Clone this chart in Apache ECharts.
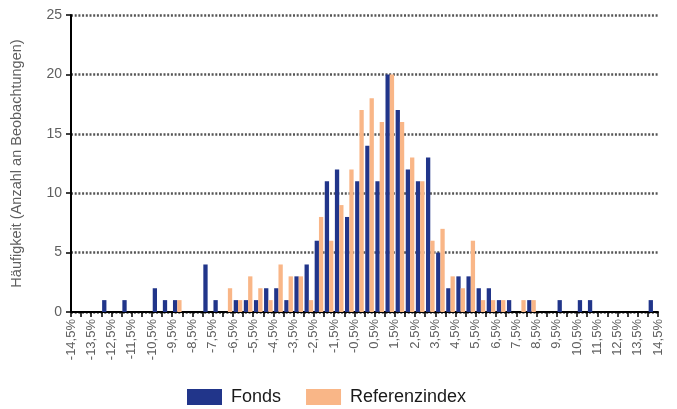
<!DOCTYPE html>
<html>
<head>
<meta charset="utf-8">
<script src="https://cdn.jsdelivr.net/npm/echarts@6/dist/echarts.min.js"></script>
<style>
  html, body { margin: 0; padding: 0; background: #fff; }
  #chart { width: 677px; height: 409px; }
</style>
</head>
<body>
<div id="chart"></div>
<script>
// Klassenmitten (Renditeintervalle à 0,5 %)
const binCenters = [
  -14.25, -13.75, -13.25, -12.75, -12.25, -11.75, -11.25, -10.75, -10.25, -9.75,
  -9.25, -8.75, -8.25, -7.75, -7.25, -6.75, -6.25, -5.75, -5.25, -4.75,
  -4.25, -3.75, -3.25, -2.75, -2.25, -1.75, -1.25, -0.75, -0.25, 0.25,
  0.75, 1.25, 1.75, 2.25, 2.75, 3.25, 3.75, 4.25, 4.75, 5.25,
  5.75, 6.25, 6.75, 7.25, 7.75, 8.25, 8.75, 9.25, 9.75, 10.25,
  10.75, 11.25, 11.75, 12.25, 12.75, 13.25, 13.75, 14.25
]
const fonds = [
  0, 0, 0, 1, 0, 1, 0, 0, 2, 1,
  1, 0, 0, 4, 1, 0, 1, 1, 1, 2,
  2, 1, 3, 4, 6, 11, 12, 8, 11, 14,
  11, 20, 17, 12, 11, 13, 5, 2, 3, 3,
  2, 2, 1, 1, 0, 1, 0, 0, 1, 0,
  1, 1, 0, 0, 0, 0, 0, 1
]
const referenz = [
  0, 0, 0, 0, 0, 0, 0, 0, 0, 0,
  1, 0, 0, 0, 0, 2, 1, 3, 2, 1,
  4, 3, 3, 1, 8, 6, 9, 12, 17, 18,
  16, 20, 16, 13, 11, 6, 7, 3, 2, 6,
  1, 1, 1, 0, 1, 1, 0, 0, 0, 0,
  0, 0, 0, 0, 0, 0, 0, 0
]
const xLabels = [
  '-14,5%', '-13,5%', '-12,5%', '-11,5%', '-10,5%', '-9,5%', '-8,5%', '-7,5%', '-6,5%', '-5,5%',
  '-4,5%', '-3,5%', '-2,5%', '-1,5%', '-0,5%', '0,5%', '1,5%', '2,5%', '3,5%', '4,5%',
  '5,5%', '6,5%', '7,5%', '8,5%', '9,5%', '10,5%', '11,5%', '12,5%', '13,5%', '14,5%'
]

const myChart = echarts.init(document.getElementById('chart'))
myChart.setOption({
  animation: false,
  grid: {
    left: 71,
    right: 19,
    top: 15,
    bottom: 97
  },
  legend: {
    left: 187,
    top: 388,
    padding: 0,
    icon: 'rect',
    itemWidth: 35,
    itemHeight: 16,
    itemGap: 25,
    textStyle: {
      fontFamily: 'Liberation Sans',
      fontSize: 18,
      color: '#1a1a1a',
      padding: [0, 0, 0, 4]
    },
    data: ['Fonds', 'Referenzindex']
  },
  xAxis: {
    type: 'value',
    min: -14.5,
    max: 14.5,
    interval: 0.5,
    axisLine: {
      onZero: false,
      lineStyle: { color: '#000', width: 2 }
    },
    axisTick: {
      show: true,
      length: 5,
      lineStyle: { color: '#000', width: 1.5 }
    },
    splitLine: { show: false },
    axisLabel: {
      rotate: 90,
      margin: 7,
      fontFamily: 'Liberation Sans',
      fontSize: 13,
      color: '#5f5f5f',
      showMinLabel: true,
      showMaxLabel: true,
      formatter: function (v) {
        const k = (v + 14.5)
        if (Math.abs(k - Math.round(k)) > 1e-6) return ''
        return xLabels[Math.round(k)] || ''
      }
    }
  },
  yAxis: {
    type: 'value',
    min: 0,
    max: 25,
    interval: 5,
    name: 'Häufigkeit (Anzahl an Beobachtungen)',
    nameLocation: 'middle',
    nameGap: 47,
    nameTextStyle: {
      fontFamily: 'Liberation Sans',
      fontSize: 14.5,
      color: '#5f5f5f'
    },
    axisLine: {
      show: true,
      onZero: false,
      lineStyle: { color: '#000', width: 2 }
    },
    axisTick: {
      show: true,
      length: 5,
      lineStyle: { color: '#000', width: 1.5 }
    },
    axisLabel: {
      margin: 9,
      fontFamily: 'Liberation Sans',
      fontSize: 14,
      color: '#5f5f5f'
    },
    splitLine: {
      lineStyle: {
        color: '#555',
        width: 2.5,
        type: [2, 1.7]
      }
    }
  },
  series: [
    {
      name: 'Fonds',
      type: 'bar',
      barWidth: 4.3,
      barGap: '0%',
      itemStyle: { color: '#21358a' },
      data: binCenters.map((x, i) => [x, fonds[i]])
    },
    {
      name: 'Referenzindex',
      type: 'bar',
      barWidth: 4.3,
      barGap: '0%',
      itemStyle: { color: '#f9b687' },
      data: binCenters.map((x, i) => [x, referenz[i]])
    }
  ]
})
</script>
</body>
</html>
